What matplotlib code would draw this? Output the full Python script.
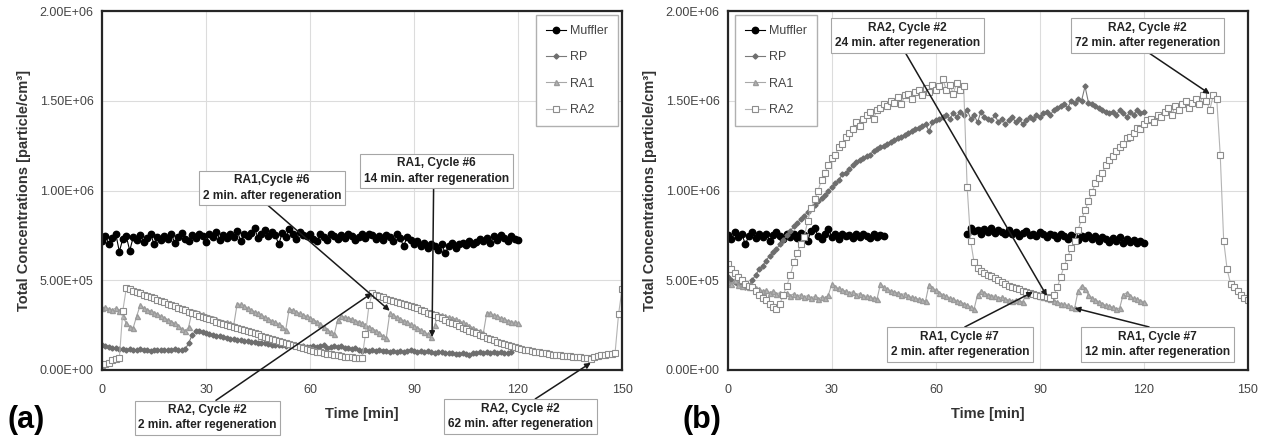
import numpy as np
import matplotlib
matplotlib.use("Agg")
import matplotlib.pyplot as plt
from matplotlib.ticker import FuncFormatter

plt.rcParams["font.family"] = ["Liberation Sans", "DejaVu Sans"]

# ---- data (values in 1e3 particle/cm3, one point per minute) ----
# panel (a)
a_muffler_start = 0
a_muffler = [
    720, 745, 700, 735, 755, 660, 730, 745, 665, 740,
    725, 750, 715, 735, 760, 700, 740, 725, 745, 730,
    755, 710, 740, 765, 730, 720, 750, 735, 760, 745,
    715, 755, 740, 770, 725, 750, 735, 760, 740, 775,
    720, 755, 745, 765, 790, 735, 760, 780, 745, 770,
    750, 700, 765, 740, 785, 755, 730, 770, 750, 745,
    760, 730, 720, 755, 740, 725, 760, 745, 730, 750,
    735, 760, 745, 725, 740, 755, 735, 760, 750, 730,
    745, 725, 750, 740, 720, 755, 735, 690, 740, 725,
    700, 720, 690, 705, 680, 700, 690, 670, 700, 650,
    690, 705, 680, 700, 710, 695, 720, 700, 715, 730,
    720, 735, 710, 745, 725, 750, 735, 720, 745, 730,
    725,
]
a_rp_start = 0
a_rp = [
    140, 135, 130, 125, 120, 118, 115, 112, 115, 110,
    112, 115, 110, 112, 108, 110, 112, 110, 113, 110,
    112, 115, 112, 110, 115, 150, 195, 215, 220, 212,
    205, 200, 195, 190, 188, 182, 178, 175, 170, 168,
    165, 162, 160, 158, 155, 152, 150, 148, 145, 142,
    140, 138, 140, 135, 137, 132, 135, 130, 132, 128,
    130, 135, 128, 132, 140, 125, 130, 135, 128, 132,
    120, 125, 115, 120, 112, 108, 112, 105, 110, 108,
    112, 105, 108, 100, 106, 102, 108, 100, 104, 110,
    104, 100, 106, 98, 104, 100, 96, 102, 98, 94,
    92, 96, 90, 88, 94, 90, 86, 92, 95, 98,
    96, 100, 94, 98, 95, 100, 97, 94, 98,
]
a_ra1_start = 0
a_ra1 = [
    345, 350, 340, 335, 345, 330, 300, 260, 240, 235,
    300, 360, 345, 335, 330, 320, 310, 300, 290, 280,
    270, 260, 245, 230, 215, 240, 330, 325, 315, 310,
    300, 295, 290, 285, 275, 270, 265, 260, 250, 370,
    365, 355, 345, 335, 325, 315, 305, 295, 285, 275,
    265, 255, 240, 225, 340, 335, 325, 315, 305, 300,
    290, 280, 270, 255, 240, 225, 210, 200, 280, 300,
    295, 290, 285, 275, 270, 260, 250, 240, 230, 220,
    205, 190, 180, 315, 305, 295, 285, 275, 265, 255,
    245, 235, 225, 210, 200, 185, 250, 310, 305, 300,
    295, 290, 285, 275, 265, 255, 245, 235, 225, 215,
    205, 320, 315, 305, 300, 290, 285, 275, 270, 265,
    260,
]
a_ra2_start = 0
a_ra2 = [
    30, 35, 40, 55, 60, 65, 330, 455, 450, 440,
    435, 428, 420, 415, 408, 400, 392, 385, 378, 370,
    362, 355, 348, 340, 332, 325, 318, 310, 302, 295,
    288, 282, 276, 270, 264, 258, 252, 246, 240, 234,
    228, 222, 216, 210, 204, 198, 192, 186, 180, 174,
    168, 162, 156, 150, 144, 138, 132, 126, 120, 115,
    110, 106, 102, 98, 94, 90, 87, 84, 81, 78,
    75, 72, 70, 68, 66, 65, 200, 360, 430, 420,
    412, 405, 398, 392, 386, 380, 374, 368, 362, 356,
    350, 343, 336, 328, 320, 312, 304, 296, 288, 280,
    270, 262, 254, 245, 236, 228, 220, 212, 204, 196,
    188, 180, 172, 165, 158, 152, 146, 140, 134, 128,
    122, 118, 114, 110, 106, 102, 98, 95, 92, 89,
    86, 84, 82, 80, 78, 76, 74, 72, 70, 68,
    66, 64, 70, 78, 82, 85, 88, 90, 95, 310,
    450,
]

# panel (b)
b_muffler1_start = 0
b_muffler1 = [
    750, 730, 770, 740, 760, 700, 745, 770, 735, 755,
    740, 760, 720, 750, 770, 745, 730, 760, 740, 755,
    735, 765, 750, 720, 775, 790, 745, 730, 760, 785,
    740, 755, 730, 760, 745, 750, 735, 755, 740, 760,
    745, 735, 755, 740, 750, 745,
]
b_muffler2_start = 69
b_muffler2 = [
    760, 790, 775, 780, 760, 785, 770, 790, 765, 780,
    770, 760, 780, 755, 770, 745, 765, 775, 750, 760,
    745, 770, 755, 740, 760, 750, 735, 755, 745, 730,
    750, 740, 725, 745, 735, 750, 730, 745, 720, 740,
    730, 715, 735, 720, 740, 710, 730, 715, 725, 705,
    720, 710,
]
b_rp_start = 0
b_rp = [
    520, 500, 490, 480, 470, 465, 470, 500, 530, 560,
    580, 610, 635, 655, 675, 700, 725, 750, 775, 800,
    820, 840, 860, 880, 900, 920, 940, 960, 975, 1000,
    1020, 1040, 1060, 1090, 1100, 1120, 1140, 1160, 1170, 1180,
    1190, 1200, 1220, 1230, 1240, 1250, 1260, 1270, 1280, 1290,
    1300, 1310, 1320, 1330, 1340, 1350, 1360, 1370, 1330, 1380,
    1390, 1400, 1410, 1420, 1400, 1430, 1410, 1440, 1420, 1450,
    1400, 1420, 1380, 1440, 1410, 1400, 1390, 1420, 1380, 1400,
    1370, 1390, 1410, 1380, 1400, 1370, 1390, 1410, 1400, 1420,
    1410, 1430, 1440, 1420, 1450, 1460, 1470, 1480, 1460, 1500,
    1490, 1510, 1500, 1580, 1490, 1480, 1470, 1460, 1450, 1440,
    1430, 1440, 1420, 1450, 1430, 1410, 1440, 1420, 1450, 1430,
    1440,
]
b_ra1_start = 0
b_ra1 = [
    490, 480, 500, 475, 470, 485, 460, 470, 455, 450,
    440, 445, 430, 440, 425, 430, 420, 430, 415, 425,
    410, 420, 405, 415, 400, 410, 395, 405, 400, 420,
    480, 460, 455, 445, 440, 430, 435, 420, 425, 415,
    410, 405, 400, 395, 480, 460, 450, 440, 435, 430,
    420, 425, 410, 405, 400, 395, 390, 385, 475, 455,
    445, 430, 420, 410, 400, 395, 385, 380, 370, 360,
    350, 340, 420, 440, 430, 420, 415, 410, 400, 405,
    395, 390, 385, 390, 385, 380, 420, 435, 430, 420,
    410, 405, 400, 395, 385, 380, 370, 365, 360, 350,
    345, 440, 470, 450, 420, 400, 390, 380, 370, 360,
    355, 350, 340, 345, 420, 430, 410, 400, 395, 385,
    380,
]
b_ra2_start = 0
b_ra2 = [
    590, 560, 540, 520, 500, 480, 470, 460, 440, 420,
    400, 390, 370, 350, 340, 370, 420, 470, 530, 600,
    650, 700, 740, 830, 900, 950, 1000, 1060, 1100, 1140,
    1180, 1200, 1240, 1260, 1300, 1320, 1340, 1380, 1360, 1400,
    1420, 1440, 1400, 1450, 1460, 1480, 1470, 1500, 1490, 1520,
    1480, 1530, 1540, 1510, 1550, 1560, 1530, 1570, 1550, 1590,
    1560, 1580, 1620, 1560, 1590, 1540, 1600, 1560, 1580, 1020,
    720, 600, 570, 550, 540, 530, 525, 510, 500, 490,
    480, 470, 465, 455, 450, 440, 435, 430, 425, 420,
    415, 410, 405, 400, 420, 460, 520, 580, 630, 680,
    720, 780, 840, 890, 940, 990, 1040, 1070, 1100, 1140,
    1170, 1190, 1220, 1240, 1260, 1290, 1300, 1320, 1350, 1340,
    1370, 1390, 1400, 1380, 1420, 1410, 1440, 1460, 1420, 1470,
    1450, 1480, 1500, 1460, 1490, 1510, 1480, 1530, 1500, 1450,
    1530, 1510, 1200, 720, 560, 480, 460, 440, 420, 400,
    390,
]

# annotations: text, arrow target (min, particle/cm3)
a_notes = [
    ("RA1,Cycle #6\n2 min. after regeneration", (83, 330e3)),
    ("RA1, Cycle #6\n14 min. after regeneration", (95.2, 184e3)),
    ("RA2, Cycle #2\n2 min. after regeneration", (77.9, 429e3)),
    ("RA2, Cycle #2\n62 min. after regeneration", (141, 40e3)),
]
b_notes = [
    ("RA2, Cycle #2\n24 min. after regeneration", (92, 412e3)),
    ("RA2, Cycle #2\n72 min. after regeneration", (139, 1.538e6)),
    ("RA1, Cycle #7\n2 min. after regeneration", (88, 435e3)),
    ("RA1, Cycle #7\n12 min. after regeneration", (100, 345e3)),
]
# text box centre, and where on the box the arrow leaves (relpos)
a_note_pos = [((49.0, 1.014e6), (0.44, 0)), ((96.5, 1.109e6), (0.48, 0)),
              ((30.4, -267e3), (0.52, 1)), ((120.7, -259e3), (0.56, 1))]
b_note_pos = [((51.8, 1.864e6), (0.47, 0)), ((121.0, 1.864e6), (0.47, 0)),
              ((66.9, 142e3), (0.48, 1)), ((123.9, 142e3), (0.55, 1))]

STYLES = {
    "Muffler": dict(color="black", marker="o", ms=4.6, mfc="black", mec="black", lw=0.8),
    "RP": dict(color="#7a7a7a", marker="D", ms=2.6, mfc="#6e6e6e", mec="#6e6e6e", lw=0.8),
    "RA1": dict(color="#a8a8a8", marker="^", ms=3.6, mfc="#b4b4b4", mec="#9a9a9a", lw=0.8),
    "RA2": dict(color="#b4b4b4", marker="s", ms=4.6, mfc="white", mec="#8c8c8c", mew=0.8, lw=0.8),
}


def series(start, vals):
    t = start + np.arange(len(vals))
    return t, np.asarray(vals, dtype=float) * 1e3


def setup_axes(ax):
    ax.set_xlim(0, 150)
    ax.set_ylim(0, 2e6)
    ax.set_xticks(np.arange(0, 151, 30))
    ax.set_yticks(np.arange(0, 2.01e6, 5e5))
    ax.yaxis.set_major_formatter(FuncFormatter(lambda v, p: f"{v:.2E}"))
    ax.tick_params(length=0, labelsize=9, colors="#444444")
    ax.tick_params(axis="x", pad=10)
    ax.tick_params(axis="y", pad=6)
    ax.grid(True, color="#dcdcdc", lw=0.8)
    ax.set_axisbelow(True)
    for s in ax.spines.values():
        s.set_color("#262626")
        s.set_linewidth(1.6)
    ax.set_xlabel("Time [min]", fontsize=10.5, weight="bold", color="#333333", labelpad=8)
    ax.set_ylabel("Total Concentrations [particle/cm³]", fontsize=10.5, weight="bold",
                  color="#333333", labelpad=6)


def add_notes(ax, notes, positions):
    for (text, target), (xy_text, rel) in zip(notes, positions):
        ax.annotate(
            text, xy=target, xytext=xy_text, ha="center", va="center",
            fontsize=8.6, weight="bold", color="#222222", linespacing=1.35,
            annotation_clip=False,
            bbox=dict(boxstyle="square,pad=0.3", fc="white", ec="#a6a6a6", lw=0.8),
            arrowprops=dict(arrowstyle="-|>", color="#1a1a1a", lw=1.1, mutation_scale=8,
                            relpos=rel, shrinkA=0, shrinkB=0),
            zorder=10,
        )


fig = plt.figure(figsize=(12.64, 4.42), dpi=100)
ax_a = fig.add_axes([0.0807, 0.1629, 0.4114, 0.8122])
ax_b = fig.add_axes([0.5759, 0.1629, 0.4114, 0.8122])

# (a)
for name, (start, vals) in [("Muffler", (a_muffler_start, a_muffler)),
                            ("RP", (a_rp_start, a_rp)),
                            ("RA1", (a_ra1_start, a_ra1)),
                            ("RA2", (a_ra2_start, a_ra2))]:
    t, v = series(start, vals)
    ax_a.plot(t, v, label=name, **STYLES[name])

# (b)
t, v = series(b_muffler1_start, b_muffler1)
ax_b.plot(t, v, label="Muffler", **STYLES["Muffler"])
t, v = series(b_muffler2_start, b_muffler2)
ax_b.plot(t, v, **STYLES["Muffler"])
for name, (start, vals) in [("RP", (b_rp_start, b_rp)),
                            ("RA1", (b_ra1_start, b_ra1)),
                            ("RA2", (b_ra2_start, b_ra2))]:
    t, v = series(start, vals)
    ax_b.plot(t, v, label=name, **STYLES[name])

for ax in (ax_a, ax_b):
    setup_axes(ax)

leg_kw = dict(fontsize=9, frameon=True, fancybox=False, edgecolor="#b0b0b0",
              framealpha=1, borderaxespad=0, handlelength=1.6, handletextpad=0.3,
              labelspacing=1.15, borderpad=0.8, labelcolor="#444444")
ax_a.legend(loc="upper right", bbox_to_anchor=(0.992, 0.989), **leg_kw)
ax_b.legend(loc="upper left", bbox_to_anchor=(0.0135, 0.989), **leg_kw)

add_notes(ax_a, a_notes, a_note_pos)
add_notes(ax_b, b_notes, b_note_pos)

fig.text(26 / 1264, 1 - 420 / 442, "(a)", fontsize=22, weight="bold", ha="center", va="center")
fig.text(702 / 1264, 1 - 420 / 442, "(b)", fontsize=22, weight="bold", ha="center", va="center")

fig.savefig("out.png", dpi=100)
